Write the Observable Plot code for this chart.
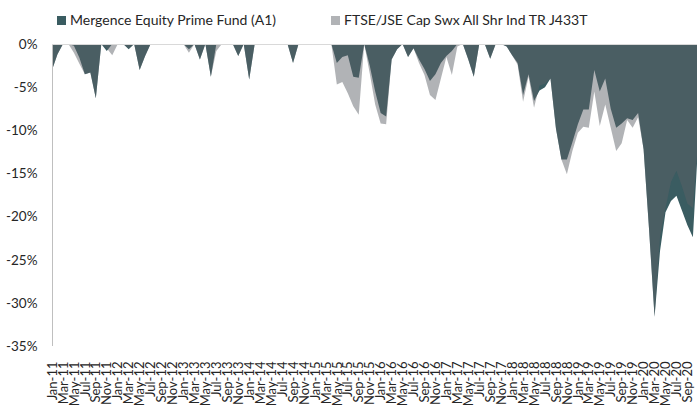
<!DOCTYPE html>
<html><head><meta charset="utf-8">
<script src="https://cdn.jsdelivr.net/npm/d3@7"></script>
<script src="https://cdn.jsdelivr.net/npm/@observablehq/plot@0.6"></script>
<style>
html,body{margin:0;padding:0;background:#fff;width:697px;height:405px;overflow:hidden;font-family:Lato,"Open Sans",sans-serif;}
#legend{position:relative;height:32px;}
.item{position:absolute;top:12px;display:flex;align-items:center;font-size:14px;line-height:16px;color:#262626;white-space:nowrap;}
.sw{width:9px;height:9px;margin-right:4px;}
</style></head><body>
<div id="legend"></div>
<div id="chart"></div>
<script>
// Month categories Jan-11 .. Nov-20
const months = d3.utcMonth.range(new Date(Date.UTC(2011,0,1)), new Date(Date.UTC(2020,11,1))).map(d3.utcFormat("%b-%y"));

const seriesNames = ["Mergence Equity Prime Fund (A1)", "FTSE/JSE Cap Swx All Shr Ind TR J433T"];

// Drawdown (%) of the fund, monthly
const fund = [
 -3.0,-1.2,0,0,-0.2,-1.6,-3.5,-3.3,-6.3,0,-0.8,0,
 0,0,-0.6,0,-3.0,-1.4,0,0,0,0,0,0,
 0,-0.6,0,-1.8,0,-3.8,0,0,0,0,-1.4,0,
 -4.1,0,0,0,0,0,0,0,-2.2,0,0,0,
 0,0,0,0,-2.2,-1.5,-1.3,-3.8,-3.9,0,-2.5,-5.5,
 -8.0,-8.4,-1.8,-0.6,0,-1.5,-0.5,-1.8,-2.9,-4.3,-3.5,-2.2,
 -1.4,-0.8,0,0,-1.8,-3.8,0,0,-1.7,0,0,-0.3,
 -1.3,-2.2,-5.9,-3.5,-6.6,-5.4,-5.0,-4.0,-9.8,-13.4,-13.4,-11.4,
 -9.3,-7.6,-7.6,-3.0,-5.5,-4.0,-7.5,-9.7,-9.2,-8.6,-8.8,-8.0,
 -12.2,-21.5,-31.6,-24.0,-19.5,-18.2,-17.6,-19.3,-21.0,-22.4,-11.0
];
// Drawdown (%) of the index, monthly
const index = [
 -3.0,-1.2,0,0,-1.0,-2.3,-3.5,-3.3,-6.3,0,-0.5,-1.3,
 0,0,-0.5,0,-3.0,-1.4,0,0,0,0,0,0,
 0,-1.0,0,-1.8,0,-3.8,-0.8,0,0,0,-1.4,0,
 -4.1,0,0,0,0,0,0,0,-2.2,0,0,0,
 0,0,0,0,-4.7,-4.4,-5.7,-7.2,-8.2,0,-3.4,-7.0,
 -9.2,-9.3,-1.8,-0.6,0,-1.5,-0.5,-2.2,-3.6,-5.9,-6.5,-4.0,
 -1.5,-3.6,-0.3,0,-1.8,-3.8,0,0,-1.7,0,0,-0.3,
 -1.3,-2.4,-6.7,-3.8,-7.4,-4.8,-4.6,-4.0,-9.8,-13.4,-15.1,-12.4,
 -10.3,-9.6,-9.7,-5.5,-9.5,-7.0,-9.7,-12.4,-11.5,-8.8,-9.7,-8.5,
 -12.2,-21.5,-31.6,-22.3,-19.0,-16.0,-14.7,-16.5,-18.5,-19.0,-11.0
];

const yTicks = [-35,-30,-25,-20,-15,-10,-5,0];
const fundColor = "#3a5c61", indexColor = "#5d6167", indexAlpha = 0.48;

const rows = months.map((m, i) => ({i, label: m, fund: fund[i], index: index[i]}));

// legend
const legend = document.getElementById("legend");
[[seriesNames[0], fundColor, 57], [seriesNames[1], "#b1b3b6", 331]].forEach(([t, c, left]) => {
  const it = document.createElement("div");
  it.className = "item"; it.style.left = left + "px";
  const sw = document.createElement("span"); sw.className = "sw"; sw.style.background = c;
  const tx = document.createElement("span"); tx.textContent = t;
  it.appendChild(sw); it.appendChild(tx); legend.appendChild(it);
});

const chart = Plot.plot({
  width: 697, height: 373,
  marginTop: 12, marginBottom: 59, marginLeft: 52, marginRight: 0,
  style: {fontFamily: "Lato, sans-serif", color: "#262626", background: "#fff", overflow: "visible"},
  x: {type: "linear", domain: [0, 117.75]},
  y: {domain: [-35, 0]},
  marks: [
    Plot.areaY(rows, {x: "i", y: "fund", fill: fundColor, clip: true}),
    Plot.areaY(rows, {x: "i", y: "index", fill: indexColor, fillOpacity: indexAlpha, clip: true}),
    Plot.ruleX([0], {stroke: "#bfbfbf"}),
    Plot.ruleY([0], {stroke: "#d9d9d9"}),
    Plot.axisY({ticks: yTicks, tickFormat: d => d + "%", tickSize: 0, tickPadding: 15, fontSize: 13.5, label: null}),
    Plot.axisX({ticks: d3.range(0, 117, 2), tickFormat: i => months[i], tickRotate: -90, tickSize: 0, tickPadding: 15, fontSize: 13, label: null})
  ]
});
document.getElementById("chart").appendChild(chart);
</script></body></html>
